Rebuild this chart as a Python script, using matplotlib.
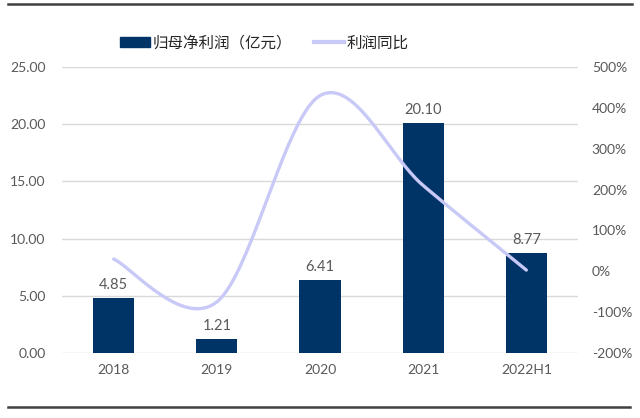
import numpy as np
import matplotlib
matplotlib.use("Agg")
import matplotlib.pyplot as plt
from matplotlib.lines import Line2D
from matplotlib.patches import Patch
from matplotlib.ticker import FuncFormatter

plt.rcParams['font.family'] = ['Lato', 'Noto Sans CJK SC', 'DejaVu Sans']

years = ["2018", "2019", "2020", "2021", "2022H1"]
profit = [4.85, 1.21, 6.41, 20.10, 8.77]
growth = [30, -75, 430, 210, 3]  # %

bar_color = '#003366'
line_color = '#c9c9f7'
text_color = '#595959'


def smooth(x, y, n=40):
    # excel-like smoothed line (cardinal spline through points)
    x = np.asarray(x, float)
    y = np.asarray(y, float)
    xs, ys = [], []
    for i in range(len(x) - 1):
        p0 = (x[max(i - 1, 0)], y[max(i - 1, 0)])
        p1 = (x[i], y[i])
        p2 = (x[i + 1], y[i + 1])
        p3 = (x[min(i + 2, len(x) - 1)], y[min(i + 2, len(y) - 1)])
        c1 = (p1[0] + (p2[0] - p0[0]) / 6, p1[1] + (p2[1] - p0[1]) / 6)
        c2 = (p2[0] - (p3[0] - p1[0]) / 6, p2[1] - (p3[1] - p1[1]) / 6)
        t = np.linspace(0, 1, n)
        bx = (1 - t) ** 3 * p1[0] + 3 * (1 - t) ** 2 * t * c1[0] + 3 * (1 - t) * t ** 2 * c2[0] + t ** 3 * p2[0]
        by = (1 - t) ** 3 * p1[1] + 3 * (1 - t) ** 2 * t * c1[1] + 3 * (1 - t) * t ** 2 * c2[1] + t ** 3 * p2[1]
        xs.extend(bx)
        ys.extend(by)
    return np.array(xs), np.array(ys)


fig = plt.figure(figsize=(6.4, 4.18), dpi=100)
ax = fig.add_axes([0.097, 0.1555, 0.806, 0.6842])
x = np.arange(len(years))

ax.bar(x, profit, width=0.4, color=bar_color, zorder=3)
for xi, v in zip(x, profit):
    ax.text(xi, v + 0.5, f"{v:.2f}", ha='center', va='bottom', fontsize=10.5, color=text_color)

ax.set_ylim(0, 25)
ax.set_yticks(np.arange(0, 26, 5))
ax.yaxis.set_major_formatter(FuncFormatter(lambda v, p: f"{v:.2f}"))
ax.set_xlim(-0.5, len(years) - 0.5)
ax.set_xticks(x)
ax.set_xticklabels(years)
ax.grid(axis='y', color='#d9d9d9', linewidth=1, zorder=0)
ax.tick_params(length=0, labelsize=10, colors=text_color, pad=8)
ax.tick_params(axis='y', pad=12)
for s in ax.spines.values():
    s.set_visible(False)

ax2 = ax.twinx()
sx, sy = smooth(x, growth)
ax2.plot(sx, sy, color=line_color, linewidth=2.4, solid_capstyle='round', zorder=4)
ax2.set_ylim(-200, 500)
ax2.set_yticks(np.arange(-200, 501, 100))
ax2.yaxis.set_major_formatter(FuncFormatter(lambda v, p: f"{v:.0f}%"))
ax2.tick_params(length=0, labelsize=10, colors=text_color, pad=10)
for s in ax2.spines.values():
    s.set_visible(False)

handles = [Patch(color=bar_color), Line2D([0], [0], color=line_color, linewidth=3)]
leg = fig.legend(handles, ["归母净利润（亿元）", "利润同比"], loc='center', bbox_to_anchor=(0.413, 0.897),
                 ncol=2, frameon=False, handlelength=1.9, handleheight=0.6,
                 columnspacing=1.4, handletextpad=0.2,
                 prop={'family': ['Noto Sans CJK SC'], 'size': 11.2, 'weight': 'medium'})
for t in leg.get_texts():
    t.set_color('#262626')

fig.add_artist(Line2D([0.012, 0.988], [0.99, 0.99], color='#404040', linewidth=1.8, transform=fig.transFigure))
fig.add_artist(Line2D([0.012, 0.985], [0.026, 0.026], color='#404040', linewidth=1.8, transform=fig.transFigure))

fig.savefig("out.png", dpi=100)
